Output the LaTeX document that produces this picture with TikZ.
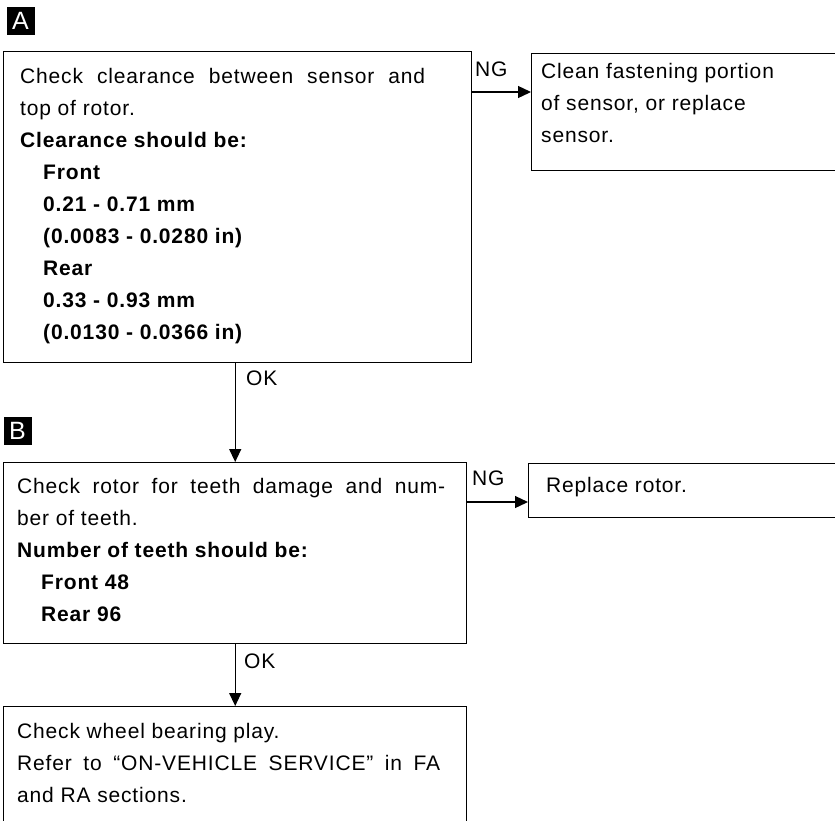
\documentclass[tikz,border=0pt]{standalone}
\usepackage{fontspec}
\setmainfont{Liberation Sans}[LetterSpace=4]
\usetikzlibrary{arrows.meta}
\tikzset{
  box/.style={draw, line width=1.4pt, inner sep=0pt, anchor=north west},
  txt/.style={anchor=base west, inner sep=0pt, font=\fontsize{21}{24}\selectfont},
  btxt/.style={anchor=base west, inner sep=0pt, font=\fontsize{21}{24}\selectfont\bfseries},
  tag/.style={fill=black, text=white, minimum size=28pt, inner sep=0pt, font=\fontsize{25}{25}\selectfont},
  conn/.style={line width=1.3pt, -{Triangle[length=13pt,width=12pt]}}
}
\begin{document}
\begin{tikzpicture}[x=1pt,y=-1pt]
\useasboundingbox (0,0) rectangle (835,820);
\clip (0,0) rectangle (835,820);
% tags
\node[tag] (tagA) at (20.5,20.5) {A};
\node[tag] (tagB) at (17.5,430.5) {B};
% boxes
\node[box, minimum width=468pt, minimum height=311pt] (boxA) at (3,51) {};
\node[box, minimum width=369pt, minimum height=117pt] (clean) at (531,53) {};
\node[box, minimum width=463pt, minimum height=181pt] (boxB) at (3,462) {};
\node[box, minimum width=372pt, minimum height=54pt] (repl) at (528,463) {};
\node[box, minimum width=463pt, minimum height=194pt] (boxC) at (3,706) {};
% box A text
\node[txt] (a1) at (20,83) {\makebox[405pt][s]{Check clearance between sensor and}};
\node[txt] (a2) at (20,115) {top of rotor.};
\node[btxt] (a3) at (20,147) {Clearance should be:};
\node[btxt] (a4) at (43,179) {Front};
\node[btxt] (a5) at (43,211) {0.21 - 0.71 mm};
\node[btxt] (a6) at (43,243) {(0.0083 - 0.0280 in)};
\node[btxt] (a7) at (43,275) {Rear};
\node[btxt] (a8) at (43,307) {0.33 - 0.93 mm};
\node[btxt] (a9) at (43,339) {(0.0130 - 0.0366 in)};
% clean box text
\node[txt] (c1) at (541,78) {Clean fastening portion};
\node[txt] (c2) at (541,110) {of sensor, or replace};
\node[txt] (c3) at (541,142) {sensor.};
% box B text
\node[txt] (b1) at (17,493) {\makebox[428pt][s]{Check rotor for teeth damage and num-}};
\node[txt] (b2) at (17,525) {ber of teeth.};
\node[btxt] (b3) at (17,557) {Number of teeth should be:};
\node[btxt] (b4) at (41,589) {Front 48};
\node[btxt] (b5) at (41,621) {Rear 96};
% replace box text
\node[txt] (r1) at (546,492) {Replace rotor.};
% box C text
\node[txt] (d1) at (17,738) {Check wheel bearing play.};
\node[txt] (d2) at (17,770) {\makebox[423pt][s]{Refer to “ON-VEHICLE SERVICE” in FA}};
\node[txt] (d3) at (17,802) {and RA sections.};
% connectors
\coordinate (ngA) at (471,92);
\coordinate (ngB) at (466,502);
\draw[conn] (ngA) -- (ngA -| clean.west);
\draw[conn] (ngB) -- (ngB -| repl.west);
\draw[conn] (boxB.north |- boxA.south) -- (boxB.north);
\draw[conn] (boxB.south) -- (boxC.north);
% labels
\node[txt] (ng1) at (475,76) {NG};
\node[txt] (ng2) at (472,485) {NG};
\node[txt] (ok1) at (246,385) {OK};
\node[txt] (ok2) at (244,668) {OK};
\end{tikzpicture}
\end{document}
